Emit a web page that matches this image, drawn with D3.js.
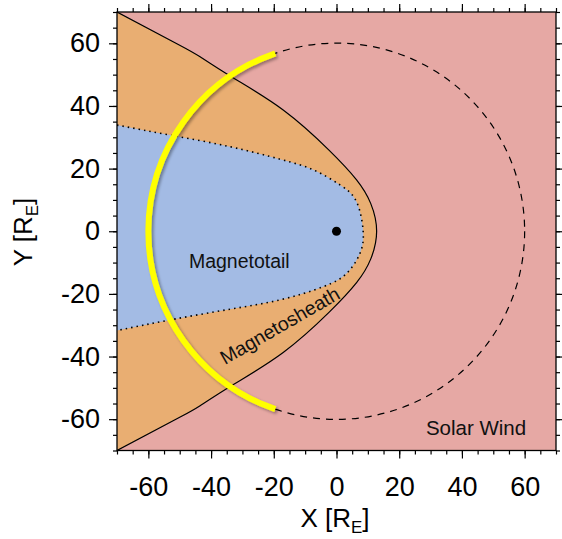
<!DOCTYPE html>
<html>
<head>
<meta charset="utf-8">
<script src="https://cdn.jsdelivr.net/npm/d3@7"></script>
<style>
  body { margin: 0; background: #fff; }
  text { font-family: "Liberation Sans", Arial, Helvetica, sans-serif; }
</style>
</head>
<body>
<div id="chart-area"></div>
<script>
// boundaries, in R_E
var bowX = [-70, -50, -43.5, -33, -17, -2.4, 6.4, 10.9, 12.8, 10.9, 6.4, -2.4, -17, -33, -43.5, -50, -70];
var bowY = [70, 59.4, 55.7, 49, 38.7, 25.9, 16.4, 8.9, 0, -8.9, -16.4, -25.9, -38.7, -49, -55.7, -59.4, -70];

var mpX = [-70, -53, -34, -18, -7.4, 1.1, 6.4, 8.5, 7.5, 3.3, -4.2, -18, -34, -53, -70];
var mpY = [33.9, 30.7, 27, 23, 19.6, 14.8, 9.4, 0, -7, -13.4, -17.7, -21.9, -24.9, -28.3, -31.7];

var orbitRadius = 60;
var arcFrom = 109, arcTo = 251;   // degrees, yellow part of the orbit
var earth = [0, 0];

var majorTicks = [-60, -40, -20, 0, 20, 40, 60];
var minorTicks = d3.range(-70, 71, 5);

var labels = [
  { text: 'Magnetotail', x: -31, y: -11.8, angle: 0, size: 19.5 },
  { text: 'Magnetosheath', x: -17, y: -32, angle: -30, size: 19.5 },
  { text: 'Solar Wind', x: 44.5, y: -65, angle: 0, size: 20.5 }
];

var margin = { top: 12, left: 117, bottom: 88.5, right: 6 };
var width = 562 - margin.left - margin.right;
var height = 539 - margin.top - margin.bottom;

var svg = d3.select('#chart-area').append('svg')
    .attr('width', 562)
    .attr('height', 539);

var defs = svg.append('defs');
defs.append('clipPath').attr('id', 'clip')
    .append('rect').attr('width', width).attr('height', height);
var sh = defs.append('filter').attr('id', 'shadow')
    .attr('x', '-20%').attr('y', '-20%').attr('width', '140%').attr('height', '140%');
sh.append('feDropShadow')
    .attr('dx', 2).attr('dy', 2).attr('stdDeviation', 1.5)
    .attr('flood-color', '#000').attr('flood-opacity', 0.35);

var g = svg.append('g').attr('transform', `translate(${margin.left}, ${margin.top})`);

var x = d3.scaleLinear().domain([-70, 70]).range([0, width]);
var y = d3.scaleLinear().domain([-70, 70]).range([height, 0]);

var plot = g.append('g').attr('clip-path', 'url(#clip)');

plot.append('rect')
    .attr('width', width).attr('height', height)
    .attr('fill', '#e6a8a4');

var bow = bowX.map((d, i) => [d, bowY[i]]);
var mp = mpX.map((d, i) => [d, mpY[i]]);

var line = d3.line().x(d => x(d[0])).y(d => y(d[1])).curve(d3.curveNatural);

// sheath fill: bow shock closed along left edge
plot.append('path')
    .attr('d', line(bow) + `L${x(-75)},${y(-75)}L${x(-75)},${y(75)}Z`)
    .attr('fill', '#e9ae72');

plot.append('path')
    .attr('d', line(mp) + `L${x(-75)},${y(mpY[mpY.length - 1])}L${x(-75)},${y(mpY[0])}Z`)
    .attr('fill', '#a3bbe4');

plot.append('path')
    .attr('d', line(mp))
    .attr('fill', 'none')
    .attr('stroke', '#000')
    .attr('stroke-width', 1.6)
    .attr('stroke-dasharray', '1.5,4');

plot.append('path')
    .attr('d', line(bow))
    .attr('fill', 'none')
    .attr('stroke', '#000')
    .attr('stroke-width', 1.2);

var r = x(orbitRadius) - x(0);
plot.append('circle')
    .attr('cx', x(0)).attr('cy', y(0)).attr('r', r)
    .attr('fill', 'none')
    .attr('stroke', '#000')
    .attr('stroke-width', 1.2)
    .attr('stroke-dasharray', '7,6');

var p = d3.path();
var a0 = -arcFrom * Math.PI / 180, a1 = -arcTo * Math.PI / 180;
p.moveTo(x(0) + r * Math.cos(a0), y(0) + r * Math.sin(a0));
p.arc(x(0), y(0), r, a0, a1, true);
plot.append('path')
    .attr('d', p.toString())
    .attr('fill', 'none')
    .attr('stroke', '#ffff00')
    .attr('stroke-width', 6)
    .attr('filter', 'url(#shadow)');

plot.append('circle')
    .attr('cx', x(earth[0])).attr('cy', y(earth[1])).attr('r', 4.5)
    .attr('fill', '#000');

plot.selectAll('.region-label').data(labels).enter()
    .append('text')
    .attr('class', 'region-label')
    .attr('text-anchor', 'middle')
    .attr('font-size', d => d.size + 'px')
    .attr('fill', '#111')
    .attr('transform', d => `translate(${x(d.x)}, ${y(d.y)}) rotate(${d.angle})`)
    .text(d => d.text);

// axes
function ticks(axis, vals, size, fmt) {
  return axis.tickValues(vals).tickSize(size).tickSizeOuter(0).tickFormat(fmt);
}
var none = () => '';

var axB = g.append('g').attr('transform', `translate(0, ${height})`);
axB.call(ticks(d3.axisBottom(x), minorTicks, 4, none));
var axB2 = g.append('g').attr('transform', `translate(0, ${height})`);
axB2.call(ticks(d3.axisBottom(x), majorTicks, 8, d => d).tickPadding(18));

var axL = g.append('g');
axL.call(ticks(d3.axisLeft(y), minorTicks, 4, none));
var axL2 = g.append('g');
axL2.call(ticks(d3.axisLeft(y), majorTicks, 8, d => d).tickPadding(9));

var axT = g.append('g');
axT.call(ticks(d3.axisTop(x), minorTicks, 4, none));
axT.append('g').call(ticks(d3.axisTop(x), majorTicks, 8, none));

var axR = g.append('g').attr('transform', `translate(${width}, 0)`);
axR.call(ticks(d3.axisRight(y), minorTicks, 4, none));
axR.append('g').call(ticks(d3.axisRight(y), majorTicks, 8, none));

g.selectAll('.domain').remove();
g.selectAll('.tick line').attr('stroke', '#000').attr('stroke-width', 1.2);
g.selectAll('.tick text')
    .attr('font-size', '27px')
    .attr('font-family', '"Liberation Sans", Arial, sans-serif')
    .attr('fill', '#000');

g.append('rect')
    .attr('width', width).attr('height', height)
    .attr('fill', 'none')
    .attr('stroke', '#000')
    .attr('stroke-width', 1.3);

// axis titles
var xTitle = svg.append('text')
    .attr('x', 335).attr('y', 527)
    .attr('text-anchor', 'middle')
    .attr('font-size', '26px');
xTitle.append('tspan').text('X [R');
xTitle.append('tspan').attr('font-size', '17px').attr('dy', 6).text('E');
xTitle.append('tspan').attr('dy', -6).text(']');

var yTitle = svg.append('text')
    .attr('transform', 'translate(32, 232) rotate(-90)')
    .attr('text-anchor', 'middle')
    .attr('font-size', '26px');
yTitle.append('tspan').text('Y [R');
yTitle.append('tspan').attr('font-size', '17px').attr('dy', 6).text('E');
yTitle.append('tspan').attr('dy', -6).text(']');
</script>
</body>
</html>
